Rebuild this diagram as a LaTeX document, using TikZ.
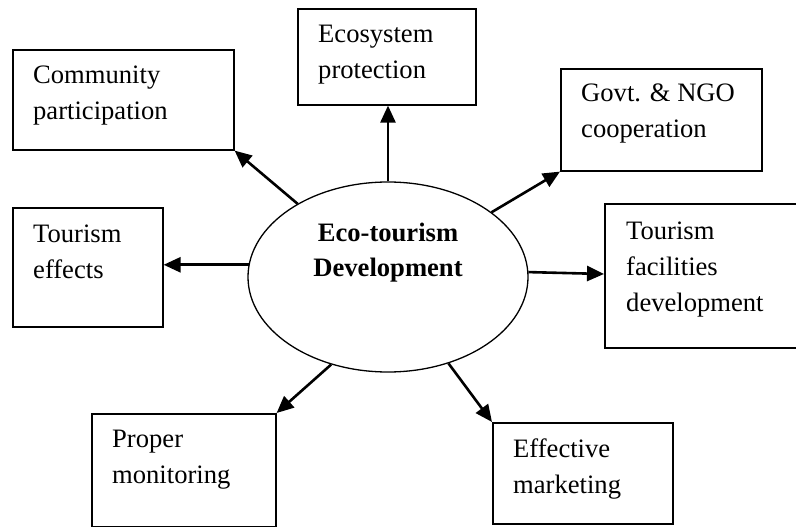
\documentclass[tikz,border=0pt]{standalone}
\usepackage{fontspec}
\setmainfont{Liberation Serif}
\usetikzlibrary{arrows.meta,shapes.geometric,calc}
\begin{document}
\begin{tikzpicture}[x=1pt,y=-1pt,
  box/.style={draw, line width=1.6pt, rectangle, inner sep=0pt, anchor=north west},
  lbl/.style={anchor=north west, inner sep=0pt, align=left, font=\fontsize{26.6}{36}\selectfont},
  clbl/.style={anchor=north, inner sep=0pt, align=center, font=\bfseries\fontsize{26.6}{35}\selectfont},
  arr/.style={line width=2.6pt, -{Triangle[length=17pt,width=15pt]}}]
\useasboundingbox (0,0) rectangle (796,527);

% boxes
\node[box, minimum width=221pt, minimum height=100pt] (cp) at (12,49) {};
\node[box, minimum width=178pt, minimum height=96pt] (eco) at (297,8) {};
\node[box, minimum width=201pt, minimum height=102pt] (go) at (560,68) {};
\node[box, minimum width=150pt, minimum height=119pt] (te) at (12,207) {};
\node[box, minimum width=196pt, minimum height=144pt] (tf) at (604,203) {};
\node[box, minimum width=184pt, minimum height=113pt] (pm) at (91,413) {};
\node[box, minimum width=180pt, minimum height=101pt] (em) at (492,422) {};

% labels
\node[lbl] (cpt) at ($(cp.north west)+(21,8.8)$) {\strut Community\\participation};
\node[lbl] (ecot) at ($(eco.north west)+(21,8.8)$) {\strut Ecosystem\\protection};
\node[lbl] (got) at ($(go.north west)+(21,7.8)$) {\strut Govt. \& NGO\\cooperation};
\node[lbl] (tet) at ($(te.north west)+(21,9.8)$) {\strut Tourism\\effects};
\node[lbl] (tft) at ($(tf.north west)+(22,10.8)$) {\strut Tourism\\facilities\\development};
\node[lbl] (pmt) at ($(pm.north west)+(21,8.8)$) {\strut Proper\\monitoring};
\node[lbl] (emt) at ($(em.north west)+(21,9.8)$) {\strut Effective\\marketing};

% centre
\node[ellipse, draw, line width=1.3pt, minimum width=280pt, minimum height=190pt, inner sep=0pt] (ell) at (388,277) {};
\node[clbl] (ellt) at (388,216.8) {\strut Eco-tourism\\Development};

% arrows
\draw[arr] (ell.141) -- (cp.south east);
\draw[arr] (ell.north) -- (ell.north |- eco.south);
\draw[arr] (ell.32) -- (go.south west);
\draw[arr] (ell.175) -- (ell.175 -| te.east);
\draw[arr] (ell.2) -- ($(tf.north west)+(0,71)$);
\draw[arr] (ell.237) -- (pm.north east);
\draw[arr] (ell.305) -- (em.north west);
\end{tikzpicture}
\end{document}
